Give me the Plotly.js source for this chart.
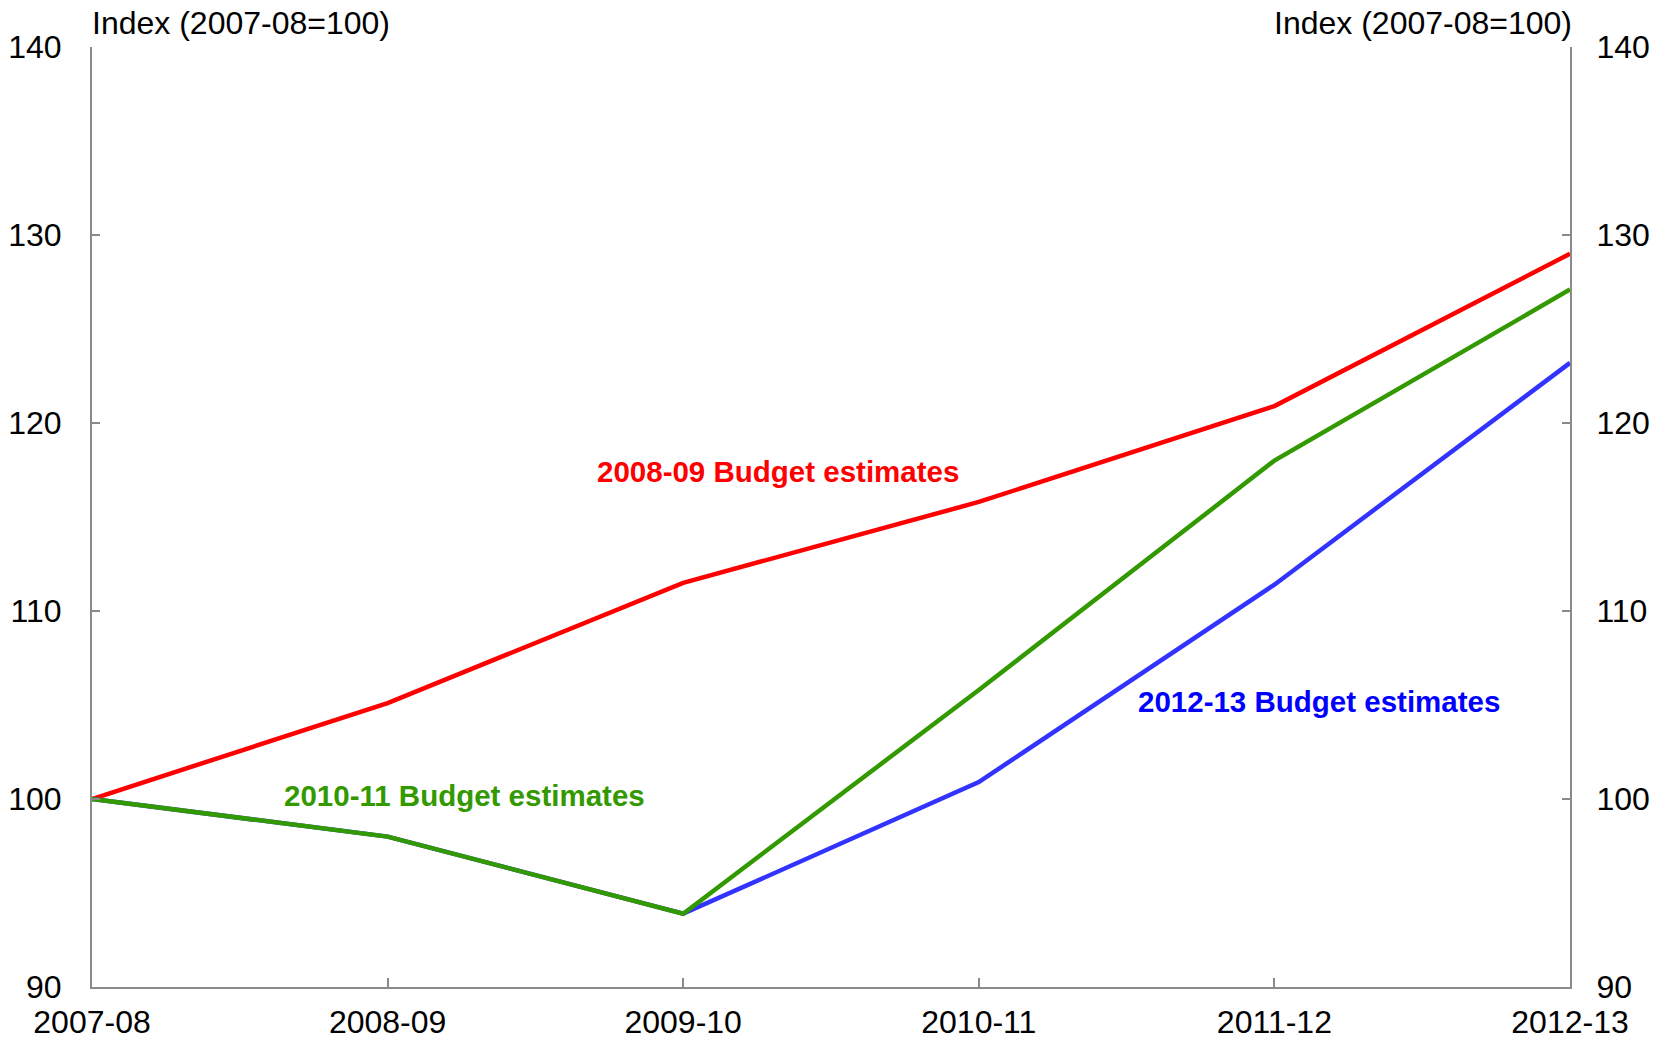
<!DOCTYPE html>
<html>
<head>
<meta charset="utf-8">
<script src="https://cdn.plot.ly/plotly-3.0.1.min.js"></script>
<style>
  html, body { margin: 0; padding: 0; background: #ffffff; }
  #chart { width: 1667px; height: 1041px; }
</style>
</head>
<body>
<div id="chart"></div>
<script>
// Financial years on the horizontal axis
const years = ['2007-08', '2008-09', '2009-10', '2010-11', '2011-12', '2012-13'];

// Index values (2007-08 = 100) for each set of Budget estimates
const budget0809 = [100, 105.1, 111.5, 115.8, 120.9, 129.0];
const budget1011 = [100, 98.0, 93.9, 105.8, 118.0, 127.1];
const budget1213 = [100, 98.0, 93.9, 100.9, 111.4, 123.2];

// Series labels and their placement (category index, index value)
const seriesNames = ['2008-09 Budget estimates', '2010-11 Budget estimates', '2012-13 Budget estimates'];
const labelX = [2.32, 1.26, 4.15];
const labelY = [117.4, 100.2, 105.2];

// Axis settings
const yTicks = [90, 100, 110, 120, 130, 140];
const axisTitle = 'Index (2007-08=100)';

const FONT = '"Liberation Sans", Arial, Helvetica, sans-serif';
const RED = '#ff0000';
const GREEN = '#339900';
const BLUE = '#3333ff';
const AXIS = '#8a8a8a';
const TEXT_SIZE = 32;

// The 2010-11 series sits on the right-hand axis (same scale) so it draws on top
const traces = [
  { x: years, y: budget0809, type: 'scatter', mode: 'lines', name: seriesNames[0],
    line: { color: RED, width: 4.5 }, hoverinfo: 'x+y' },
  { x: years, y: budget1213, type: 'scatter', mode: 'lines', name: seriesNames[2],
    line: { color: BLUE, width: 4.5 }, hoverinfo: 'x+y' },
  { x: years, y: budget1011, type: 'scatter', mode: 'lines', name: seriesNames[1], yaxis: 'y2',
    line: { color: GREEN, width: 4.5 }, hoverinfo: 'x+y' }
];

const yAxisCommon = {
  range: [yTicks[0], yTicks[yTicks.length - 1]],
  tickvals: yTicks,
  ticks: 'inside',
  ticklen: 8,
  tickwidth: 2,
  tickcolor: AXIS,
  showline: true,
  linecolor: AXIS,
  linewidth: 2,
  showgrid: false,
  zeroline: false,
  fixedrange: true,
  tickfont: { family: FONT, size: TEXT_SIZE, color: '#000000' }
};

const layout = {
  width: 1667,
  height: 1041,
  margin: { l: 92, r: 97, t: 47, b: 54 },
  paper_bgcolor: '#ffffff',
  plot_bgcolor: '#ffffff',
  showlegend: false,
  xaxis: {
    type: 'category',
    categoryarray: years,
    range: [0, years.length - 1],
    ticks: 'inside',
    ticklen: 9,
    tickwidth: 2,
    tickcolor: AXIS,
    showline: true,
    linecolor: AXIS,
    linewidth: 2,
    showgrid: false,
    zeroline: false,
    fixedrange: true,
    ticklabelstandoff: 6,
    tickfont: { family: FONT, size: TEXT_SIZE, color: '#000000' }
  },
  yaxis: Object.assign({}, yAxisCommon, { side: 'left', ticklabelstandoff: 22 }),
  yaxis2: Object.assign({}, yAxisCommon, { side: 'right', overlaying: 'y', anchor: 'x', ticklabelstandoff: 18 }),
  annotations: [
    { text: axisTitle, xref: 'paper', yref: 'paper', x: 0, y: 1, xanchor: 'left', yanchor: 'middle',
      xshift: -2, yshift: 24, showarrow: false, font: { family: FONT, size: TEXT_SIZE, color: '#000000' } },
    { text: axisTitle, xref: 'paper', yref: 'paper', x: 1, y: 1, xanchor: 'right', yanchor: 'middle',
      xshift: 4, yshift: 24, showarrow: false, font: { family: FONT, size: TEXT_SIZE, color: '#000000' } },
    { text: '<b>' + seriesNames[0] + '</b>', x: labelX[0], y: labelY[0], xref: 'x', yref: 'y',
      showarrow: false, font: { family: FONT, size: 29.5, color: RED } },
    { text: '<b>' + seriesNames[1] + '</b>', x: labelX[1], y: labelY[1], xref: 'x', yref: 'y',
      showarrow: false, font: { family: FONT, size: 29.5, color: GREEN } },
    { text: '<b>' + seriesNames[2] + '</b>', x: labelX[2], y: labelY[2], xref: 'x', yref: 'y',
      showarrow: false, font: { family: FONT, size: 29.5, color: '#0000ff' } }
  ]
};

Plotly.newPlot('chart', traces, layout, { displayModeBar: false, staticPlot: true });
</script>
</body>
</html>
